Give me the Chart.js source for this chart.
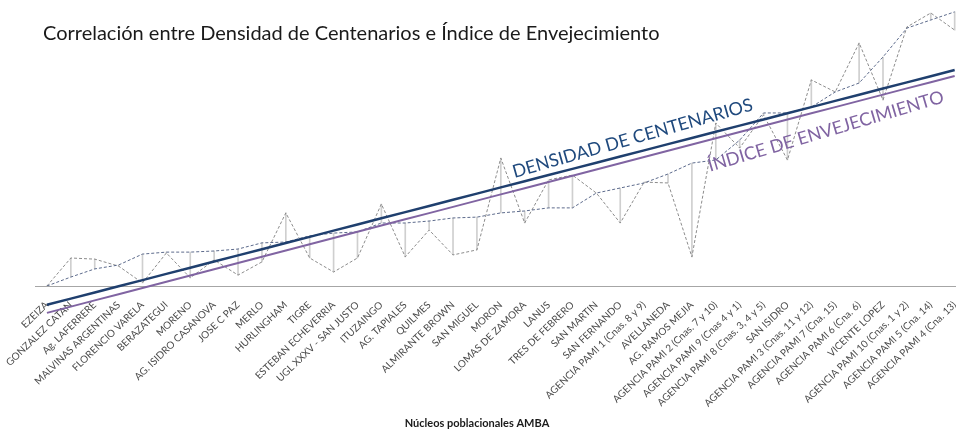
<!DOCTYPE html>
<html lang="es">
<head>
<meta charset="utf-8">
<title>Correlación entre Densidad de Centenarios e Índice de Envejecimiento</title>
<script src="https://cdn.jsdelivr.net/npm/chart.js@4"></script>
<style>
  html, body { margin: 0; padding: 0; background: #fff; overflow: hidden; }
  #wrap { width: 956px; height: 433px; overflow: hidden; }
</style>
</head>
<body>
<div id="wrap"><canvas id="chartCanvas" width="968" height="433"></canvas></div>
<script>
// Núcleos poblacionales (eje X)
const nucleos = [
  'EZEIZA', 'GONZALEZ CATAN', 'Ag. LAFERRERE', 'MALVINAS ARGENTINAS', 'FLORENCIO VARELA',
  'BERAZATEGUI', 'MORENO', 'AG. ISIDRO CASANOVA', 'JOSE C PAZ', 'MERLO',
  'HURLINGHAM', 'TIGRE', 'ESTEBAN ECHEVERRIA', 'UGL XXXV - SAN JUSTO', 'ITUZAINGO',
  'AG. TAPIALES', 'QUILMES', 'ALMIRANTE BROWN', 'SAN MIGUEL', 'MORON',
  'LOMAS DE ZAMORA', 'LANUS', 'TRES DE FEBRERO', 'SAN MARTIN', 'SAN FERNANDO',
  'AGENCIA PAMI 1 (Cnas. 8 y 9)', 'AVELLANEDA', 'AG. RAMOS MEJIA', 'AGENCIA PAMI 2 (Cnas. 7 y 10)', 'AGENCIA PAMI 9 (Cnas 4 y 1)',
  'AGENCIA PAMI 8 (Cnas. 3, 4 y 5)', 'SAN ISIDRO', 'AGENCIA PAMI 3 (Cnas. 11 y 12)', 'AGENCIA PAMI 7 (Cna. 15)', 'AGENCIA PAMI 6 (Cna. 6)',
  'VICENTE LOPEZ', 'AGENCIA PAMI 10 (Cnas. 1 y 2)', 'AGENCIA PAMI 5 (Cna. 14)', 'AGENCIA PAMI 4 (Cna. 13)'
];

// valores relativos (0-100)
const densidadCentenarios = [
  0, 3.2, 6.1, 7.5, 11.4, 12.1, 12.1, 12.5, 13.2, 15.4,
  15.7, 17.9, 18.9, 19.3, 22.5, 22.5, 23.2, 24.3, 24.6, 26.1,
  26.8, 27.9, 27.9, 33.2, 35.0, 36.8, 40.0, 43.9, 45.0, 52.1,
  61.8, 61.8, 63.9, 69.3, 72.5, 81.8, 92.1, 95.0, 97.9
];
const indiceEnvejecimiento = [
  0, 10.0, 9.6, 7.1, 1.1, 11.8, 2.9, 9.3, 3.9, 8.6,
  26.1, 10.0, 5.0, 10.0, 29.3, 10.4, 20.0, 11.1, 12.9, 45.7,
  22.5, 37.9, 39.6, 33.2, 22.5, 37.1, 36.8, 10.4, 58.2, 49.3,
  61.1, 45.0, 73.6, 69.3, 86.8, 66.4, 92.5, 97.5, 91.4
];

const titulo = 'Correlación entre Densidad de Centenarios e Índice de Envejecimiento';
const tituloEjeX = 'Núcleos poblacionales AMBA';
const etiquetaDensidad = 'DENSIDAD DE CENTENARIOS';
const etiquetaIndice = 'ÍNDICE DE ENVEJECIMIENTO';

Chart.defaults.font.family = 'Lato, "Open Sans", sans-serif';

// tendencia lineal (minimos cuadrados), igual que la de Excel
function ajuste(valores) {
  const n = valores.length;
  const mx = (n - 1) / 2;
  const my = valores.reduce((a, b) => a + b, 0) / n;
  let num = 0, den = 0;
  valores.forEach((v, i) => {
    num += (i - mx) * (v - my);
    den += (i - mx) * (i - mx);
  });
  const m = num / den;
  return i => my + m * (i - mx);
}

const tendDensidad = ajuste(densidadCentenarios);
const tendIndice = ajuste(indiceEnvejecimiento);

// texto girado sobre una linea de tendencia
function textoSobreLinea(chart, texto, f, idx, dy, ang, color) {
  const { ctx, scales: { x, y } } = chart;
  const px = x.getPixelForValue(idx);
  const py = y.getPixelForValue(f(idx)) + dy;
  ctx.save();
  ctx.translate(px, py);
  ctx.rotate(-ang * Math.PI / 180);
  ctx.fillStyle = color;
  ctx.font = '18px Lato, "Open Sans", sans-serif';
  ctx.textAlign = 'left';
  ctx.textBaseline = 'alphabetic';
  ctx.fillText(texto, 0, 0);
  ctx.restore();
}

const textos = {
  id: 'textos',
  afterDraw(chart) {
    const ctx = chart.ctx;
    ctx.save();
    ctx.fillStyle = '#1a1a1a';
    ctx.font = '20px Lato, "Open Sans", sans-serif';
    ctx.textBaseline = 'alphabetic';
    ctx.textAlign = 'left';
    ctx.fillText(titulo, 43, 40);

    ctx.font = 'bold 11px Lato, "Open Sans", sans-serif';
    ctx.textAlign = 'center';
    ctx.fillText(tituloEjeX, 477, 427);
    ctx.restore();

    textoSobreLinea(chart, etiquetaDensidad, tendDensidad, 19.57, -6, 15.8, '#1f497d');
    textoSobreLinea(chart, etiquetaIndice, tendIndice, 27.76, 32, 16.5, '#8064a2');
  }
};

const ctx = document.getElementById('chartCanvas').getContext('2d');

new Chart(ctx, {
  data: {
    labels: nucleos,
    datasets: [
      {
        type: 'line',
        label: 'Tendencia densidad',
        data: nucleos.map((_, i) => tendDensidad(i)),
        borderColor: '#1f3f6e',
        borderWidth: 2.5,
        pointRadius: 0,
        clip: false,
        order: 1
      },
      {
        type: 'line',
        label: 'Tendencia índice',
        data: nucleos.map((_, i) => tendIndice(i)),
        borderColor: '#8064a2',
        borderWidth: 2,
        pointRadius: 0,
        clip: false,
        order: 2
      },
      {
        type: 'line',
        label: 'Densidad de Centenarios',
        data: densidadCentenarios,
        borderColor: '#5d6b8c',
        borderWidth: 1,
        borderDash: [3, 2],
        pointRadius: 0,
        tension: 0,
        order: 3
      },
      {
        type: 'line',
        label: 'Índice de Envejecimiento',
        data: indiceEnvejecimiento,
        borderColor: '#8c8c8c',
        borderWidth: 1,
        borderDash: [3, 2],
        pointRadius: 0,
        tension: 0,
        order: 4
      },
      {
        // lineas de maximos y minimos entre ambas series
        type: 'bar',
        label: 'hi-lo',
        data: nucleos.map((_, i) => [indiceEnvejecimiento[i], densidadCentenarios[i]]),
        backgroundColor: '#cfcfcf',
        barThickness: 1,
        grouped: false,
        order: 5
      }
    ]
  },
  options: {
    responsive: false,
    animation: false,
    devicePixelRatio: 1,
    layout: { padding: { left: 35, right: 0, top: 6, bottom: 0 } },
    plugins: {
      legend: { display: false },
      tooltip: { enabled: false }
    },
    scales: {
      x: {
        offset: true,
        grid: { display: false },
        border: { display: true, color: '#a6a6a6', width: 1 },
        ticks: {
          autoSkip: false,
          minRotation: 44,
          maxRotation: 44,
          padding: 5,
          color: '#4a4a4a',
          font: { size: 10 }
        },
        afterFit(scale) { scale.height = 147; }
      },
      y: {
        display: false,
        min: 0,
        max: 100
      }
    }
  },
  plugins: [textos]
});
</script>
</body>
</html>
